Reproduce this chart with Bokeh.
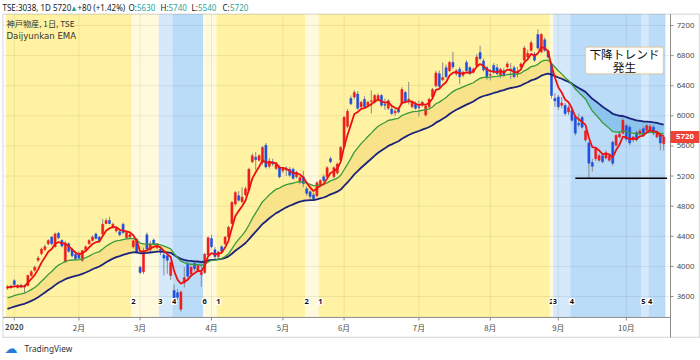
import numpy as np
from bokeh.plotting import figure
from bokeh.models import ColumnDataSource, BoxAnnotation, Label, Range1d
from bokeh.core.properties import value
from bokeh.embed import file_html
from bokeh.resources import INLINE

# ---------------- data ----------------
opens = [3710, 3740, 3810, 3720, 3750, 3725, 3745, 3880, 3950, 4080,
         4170, 4225, 4300, 4390, 4260, 4440, 4345, 4060, 4300, 4230,
         4160, 4170, 4080, 4220, 4300, 4345, 4430, 4390, 4430, 4570,
         4610, 4520, 4470, 4460, 4560, 4380, 4390, 4260, 4360, 3990,
         3930, 4420, 4220, 4350, 4250, 4230, 4150, 4140, 3880, 3680,
         3650, 3430, 3780, 4030, 3900, 4040, 3950, 3890, 3920, 4150,
         4370, 4220, 4130, 4260, 4300, 4390, 4570, 4830, 4940, 4860,
         4950, 5010, 5390, 5450, 5410, 5380, 5610, 5330, 5390, 5300,
         5320, 5270, 5290, 5290, 5290, 5190, 5120, 5190, 5030, 4990,
         4950, 4940, 5080, 5190, 5190, 5430, 5190, 5240, 5410, 5590,
         5860, 6230, 6250, 6290, 6120, 6220, 6140, 6190, 6180, 6210,
         6270, 6150, 6100, 6090, 6040, 6090, 6160, 6310, 6200, 6120,
         6160, 6120, 6140, 6010, 6120, 6250, 6400, 6560, 6480, 6640,
         6600, 6710, 6560, 6620, 6540, 6710, 6640, 6580, 6670, 6840,
         6730, 6640, 6540, 6670, 6640, 6540, 6600, 6650, 6620, 6640,
         6560, 6650, 6740, 6780, 6870, 6820, 7080, 6850, 7010, 6860,
         6690, 6230, 6250, 6140, 6140, 6050, 6070, 5980, 5900, 5980,
         5680, 5640, 5380, 5430, 5410, 5470, 5440, 5410, 5650, 5610,
         5720, 5770, 5870, 5850, 5680, 5780, 5770, 5830, 5810, 5810,
         5850, 5720, 5760, 5630]
highs = [3750, 3755, 3830, 3765, 3770, 3760, 3890, 3950, 4010, 4140,
         4250, 4290, 4360, 4400, 4450, 4460, 4360, 4340, 4320, 4250,
         4180, 4200, 4220, 4280, 4360, 4410, 4450, 4400, 4630, 4640,
         4660, 4580, 4530, 4480, 4580, 4470, 4440, 4350, 4380, 4010,
         4250, 4450, 4340, 4370, 4310, 4260, 4180, 4160, 4080, 3760,
         3700, 3680, 3990, 4060, 4010, 4060, 4030, 4080, 4180, 4400,
         4420, 4260, 4210, 4280, 4400, 4540, 4870, 5000, 5000, 5050,
         5060, 5310, 5500, 5520, 5490, 5600, 5640, 5440, 5430, 5380,
         5340, 5320, 5330, 5320, 5310, 5270, 5200, 5270, 5060, 5010,
         4980, 5130, 5160, 5220, 5330, 5460, 5330, 5380, 5600, 6000,
         6090, 6270, 6340, 6330, 6200, 6260, 6200, 6340, 6290, 6300,
         6290, 6230, 6220, 6130, 6100, 6120, 6380, 6330, 6450, 6200,
         6190, 6200, 6200, 6140, 6240, 6370, 6600, 6600, 6710, 6680,
         6730, 6850, 6620, 6650, 6600, 6740, 6660, 6640, 6820, 6930,
         6760, 6660, 6620, 6700, 6690, 6640, 6640, 6720, 6700, 6670,
         6650, 6710, 6930, 6880, 7000, 6850, 7150, 7100, 7040, 6880,
         6710, 6300, 6280, 6250, 6170, 6140, 6100, 6010, 6030, 6000,
         5820, 5660, 5430, 5580, 5500, 5500, 5540, 5490, 5670, 5760,
         5790, 5980, 5900, 5880, 5740, 5800, 5830, 5860, 5890, 5890,
         5880, 5800, 5780, 5740]
lows = [3690, 3700, 3740, 3705, 3710, 3650, 3735, 3860, 3930, 4060,
        4150, 4200, 4280, 4280, 4250, 4360, 4250, 4050, 4180, 4120,
        4080, 4090, 4060, 4200, 4290, 4330, 4360, 4320, 4420, 4560,
        4560, 4500, 4450, 4400, 4430, 4360, 4370, 4240, 4170, 3900,
        3900, 4200, 4190, 4280, 4230, 4150, 3880, 3900, 3820, 3540,
        3550, 3400, 3720, 3840, 3870, 3940, 3920, 3730, 3900, 4130,
        4240, 4100, 4100, 4180, 4280, 4370, 4560, 4800, 4860, 4840,
        4930, 5000, 5370, 5280, 5390, 5350, 5300, 5300, 5330, 5280,
        5170, 5240, 5200, 5190, 5150, 5170, 5090, 5050, 4940, 4900,
        4870, 4920, 5050, 5120, 5170, 5370, 5170, 5220, 5390, 5570,
        5840, 6140, 6220, 6080, 6090, 6100, 6110, 6030, 6160, 6190,
        6120, 6080, 6080, 6010, 6000, 6030, 6140, 6170, 6150, 6100,
        6080, 5990, 6120, 5990, 6100, 6230, 6380, 6370, 6460, 6500,
        6580, 6620, 6530, 6420, 6510, 6590, 6540, 6560, 6650, 6740,
        6590, 6480, 6470, 6560, 6540, 6500, 6520, 6630, 6490, 6500,
        6510, 6620, 6720, 6740, 6850, 6720, 6880, 6830, 6850, 6760,
        6230, 6120, 6080, 6100, 6000, 6010, 5920, 5740, 5850, 5830,
        5650, 5170, 5260, 5400, 5390, 5370, 5420, 5390, 5340, 5590,
        5700, 5750, 5660, 5610, 5650, 5660, 5740, 5720, 5790, 5790,
        5740, 5700, 5540, 5540]
closes = [3730, 3720, 3760, 3745, 3725, 3740, 3880, 3930, 3990, 4110,
          4230, 4260, 4345, 4300, 4430, 4380, 4270, 4300, 4200, 4140,
          4100, 4110, 4210, 4260, 4345, 4390, 4370, 4340, 4560, 4610,
          4570, 4560, 4510, 4420, 4450, 4450, 4420, 4340, 4190, 3920,
          4200, 4230, 4300, 4300, 4300, 4210, 4110, 4080, 4050, 3570,
          3590, 3660, 3850, 3870, 3990, 3970, 4010, 3920, 4160, 4380,
          4260, 4130, 4190, 4200, 4390, 4520, 4850, 4980, 4880, 4920,
          5030, 5290, 5470, 5420, 5470, 5580, 5320, 5400, 5360, 5360,
          5190, 5300, 5280, 5210, 5170, 5250, 5180, 5100, 4970, 4930,
          4900, 5110, 5140, 5140, 5310, 5390, 5310, 5360, 5580, 5980,
          6060, 6160, 6310, 6100, 6180, 6120, 6180, 6200, 6270, 6270,
          6140, 6140, 6200, 6030, 6060, 6050, 6350, 6190, 6220, 6180,
          6100, 6110, 6180, 6130, 6220, 6350, 6570, 6390, 6510, 6520,
          6710, 6650, 6600, 6520, 6580, 6600, 6560, 6620, 6780, 6760,
          6610, 6520, 6550, 6580, 6560, 6620, 6540, 6690, 6600, 6520,
          6580, 6690, 6900, 6830, 6970, 6740, 6900, 7080, 6870, 6780,
          6270, 6200, 6120, 6170, 6030, 6110, 5940, 5770, 5880, 5850,
          5800, 5370, 5330, 5560, 5470, 5390, 5510, 5470, 5370, 5740,
          5760, 5940, 5690, 5640, 5720, 5680, 5800, 5750, 5870, 5860,
          5770, 5780, 5640, 5720]

ema_periods = [5, 20, 40]            # Daijyunkan EMA (short, mid, long)
ema_seeds = [3725, 3583, 3437]       # EMA levels at the first bar

stage_starts = [0, 37, 45, 49, 58, 62, 88, 92, 160, 161, 166, 187, 189]
stage_ids = [1, 2, 3, 4, 6, 1, 2, 1, 2, 3, 4, 5, 4]

month_ticks = [2, 21, 39, 60, 81, 99, 121, 142, 162, 182]
month_labels = ["2020", "2月", "3月", "4月", "5月", "6月", "7月", "8月", "9月", "10月"]
price_ticks = [3600, 4000, 4400, 4800, 5200, 5600, 6000, 6400, 6800, 7200]

support_level = 5170
support_range = [167, 194]

# ---------------- derived ----------------
n = len(closes)
idx = list(range(n))


def ema(vals, period, seed):
    a = 2.0 / (period + 1)
    out = [float(seed)]
    for v in vals[1:]:
        out.append(out[-1] + a * (v - out[-1]))
    return np.array(out)


ema_s = ema(closes, ema_periods[0], ema_seeds[0])
ema_m = ema(closes, ema_periods[1], ema_seeds[1])
ema_l = ema(closes, ema_periods[2], ema_seeds[2])

# ---------------- style / layout ----------------
CJK = "Noto Sans CJK JP"
LAT = "Noto Sans"
UP = "#EE1D1D"
DN = "#1F4FE0"
WICK = "#8A8A8A"
STAGE_COLORS = {1: "#FFF3A3", 2: "#FFFADC", 3: "#D5E9FB", 4: "#BBDCF8", 5: "#D5E9FB", 6: "#FFFADC"}
TEAL = "#26A69A"
DARK = "#131722"
FRAME = "#8C8C8C"
AXTXT = "#4A4A4A"

W, H = 700, 360
X_LO, X_HI = -2.0588, 203.82    # whole canvas in bar-index units
Y_LO, Y_HI = 2749.9, 7532.1     # whole canvas in price units
X_L, X_AX, X_R = -1.35, 195.0, 203.5  # pane left, price-axis line, pane right
Y_T, Y_AX, Y_B = 7352, 3322, 3057     # pane top, time-axis line, pane bottom
LBL_Y = 3535                    # row of stage numbers

p = figure(width=W, height=H, output_backend="svg", toolbar_location=None,
           x_range=Range1d(X_LO, X_HI), y_range=Range1d(Y_LO, Y_HI),
           x_axis_location=None, y_axis_location=None, min_border=0,
           outline_line_color=None, background_fill_color="white", border_fill_color="white")
p.xgrid.visible = False
p.ygrid.visible = False

# stage backgrounds
ends = stage_starts[1:] + [n]
for s, e, k in zip(stage_starts, ends, stage_ids):
    p.add_layout(BoxAnnotation(left=s - 0.5, right=e - 0.5, top=Y_T, bottom=Y_AX,
                               fill_color=STAGE_COLORS[k], fill_alpha=1.0, line_color=None, level="underlay"))

# grid
p.segment(x0=month_ticks, y0=[Y_AX] * len(month_ticks), x1=month_ticks, y1=[Y_T] * len(month_ticks),
          line_color="black", line_alpha=0.07, line_width=1)
p.segment(x0=[X_L] * len(price_ticks), y0=price_ticks, x1=[X_AX] * len(price_ticks), y1=price_ticks,
          line_color="black", line_alpha=0.07, line_width=1)

# EMA band fill
band_top = np.maximum(ema_m, ema_l)
p.varea(x=idx, y1=ema_l, y2=band_top, fill_color="#F8E38A", fill_alpha=1.0)
p.varea(x=idx, y1=ema_m, y2=band_top, fill_color="#8CC4EE", fill_alpha=1.0)

# candles
o = np.array(opens); c = np.array(closes)
src = ColumnDataSource(dict(x=idx, h=highs, l=lows,
                            top=np.maximum(o, c), bottom=np.minimum(o, c),
                            color=[UP if cc > oo else DN for oo, cc in zip(opens, closes)]))
p.segment(x0="x", y0="l", x1="x", y1="h", source=src, line_color=WICK, line_width=1)
p.vbar(x="x", width=0.62, top="top", bottom="bottom", fill_color="color", line_color="color",
       line_width=0.5, source=src)

# EMA lines
p.line(idx, ema_l, line_color="#1B237A", line_width=1.8)
p.line(idx, ema_m, line_color="#3A9B3A", line_width=1.3)
p.line(idx, ema_s, line_color="#EE1111", line_width=1.8)

# support line
p.line(support_range, [support_level, support_level], line_color="black", line_width=1.5)

# stage numbers
p.text(x=stage_starts[1:], y=[LBL_Y] * (len(stage_starts) - 1), text=[str(s) for s in stage_ids[1:]],
       text_font=value(LAT), text_font_size="7.5px", text_font_style="bold", text_color="#111111",
       text_align="center", text_baseline="middle",
       background_fill_color="white", padding=1, border_radius=2)

# annotation box
p.add_layout(BoxAnnotation(left=170.0, right=192.9, top=6912, bottom=6559, fill_color="white", fill_alpha=1.0,
                           line_color="#F39C2B", line_width=1.5, border_radius=2, level="annotation"))
p.add_layout(Label(x=181.45, y=6822, text="下降トレンド", text_font=CJK, text_font_size="11.7px",
                   text_color="#111111", text_align="center", text_baseline="middle"))
p.add_layout(Label(x=181.45, y=6655, text="発生", text_font=CJK, text_font_size="11.7px",
                   text_color="#111111", text_align="center", text_baseline="middle"))

# time axis
month_styles = ["bold"] + ["normal"] * (len(month_labels) - 1)
msrc = ColumnDataSource(dict(x=month_ticks, y=[3189] * len(month_ticks), t=month_labels, s=month_styles))
p.segment(x0=month_ticks, y0=[Y_AX] * len(month_ticks), x1=month_ticks, y1=[Y_AX - 40] * len(month_ticks),
          line_color=FRAME, line_width=1)
p.text(x="x", y="y", text="t", text_font_style="s", source=msrc, text_font=value(CJK),
       text_font_size="7.8px", text_color=AXTXT, text_align="center", text_baseline="middle")
# price axis
p.segment(x0=[X_AX] * len(price_ticks), y0=price_ticks, x1=[X_AX + 0.9] * len(price_ticks), y1=price_ticks,
          line_color=FRAME, line_width=1)
p.text(x=[196.8] * len(price_ticks), y=price_ticks, text=[str(t) for t in price_ticks], text_font=value(LAT),
       text_font_size="7.8px", text_color=AXTXT, text_align="left", text_baseline="middle")

# last price tag
p.add_layout(BoxAnnotation(left=X_AX, right=X_R, top=closes[-1] + 80, bottom=closes[-1] - 80,
                           fill_color="#EF4135", fill_alpha=1.0, line_color=None, level="annotation"))
p.add_layout(Label(x=(X_AX + X_R) / 2, y=closes[-1], text="%d" % closes[-1], text_font=LAT,
                   text_font_size="7.8px", text_font_style="bold", text_color="white",
                   text_align="center", text_baseline="middle"))

# pane borders
p.add_layout(BoxAnnotation(left=X_L, right=X_R, top=Y_T, bottom=Y_B, fill_alpha=0, fill_color=None,
                           line_color=FRAME, line_width=1.2, level="overlay"))
p.segment(x0=[X_AX, X_L], y0=[Y_B, Y_AX], x1=[X_AX, X_AX], y1=[Y_T, Y_AX], line_color=FRAME, line_width=1)

# header
chg = closes[-1] - closes[-2]
pct = 100.0 * chg / closes[-2]
header = [("TSE:3038, 1D %d" % closes[-1], 2.0, DARK), ("▲", 69.5, TEAL),
          ("+%d (+%.2f%%)" % (chg, pct), 77.0, DARK),
          ("O:", 128.0, DARK), ("%d" % opens[-1], 136.5, TEAL),
          ("H:", 160.0, DARK), ("%d" % highs[-1], 168.0, TEAL),
          ("L:", 191.0, DARK), ("%d" % lows[-1], 197.5, TEAL),
          ("C:", 222.0, DARK), ("%d" % closes[-1], 229.5, TEAL)]
for txt, sx, col in header:
    p.add_layout(Label(x=sx, y=H - 6.7, x_units="screen", y_units="screen", text=txt,
                       text_font=LAT, text_font_size="8px", text_color=col, text_baseline="middle"))

p.add_layout(Label(x=6.0, y=H - 22.8, x_units="screen", y_units="screen", text="神戸物産, 1日, TSE",
                   text_font=CJK, text_font_size="8.2px", text_color="#333333", text_baseline="middle"))
p.add_layout(Label(x=6.0, y=H - 35.0, x_units="screen", y_units="screen", text="Daijyunkan EMA",
                   text_font="DejaVu Sans", text_font_size="8.6px", text_color="#333333", text_baseline="middle"))

# TradingView mark
p.add_layout(Label(x=4, y=12.5, x_units="screen", y_units="screen", text="☁", text_font="DejaVu Sans",
                   text_font_size="13px", text_color="#2A7BD6", text_baseline="middle"))
p.add_layout(Label(x=24, y=12, x_units="screen", y_units="screen", text="TradingView",
                   text_font=LAT, text_font_size="8.3px", text_color="#333333", text_baseline="middle"))

open("out.html", "w").write(file_html(p, INLINE))
